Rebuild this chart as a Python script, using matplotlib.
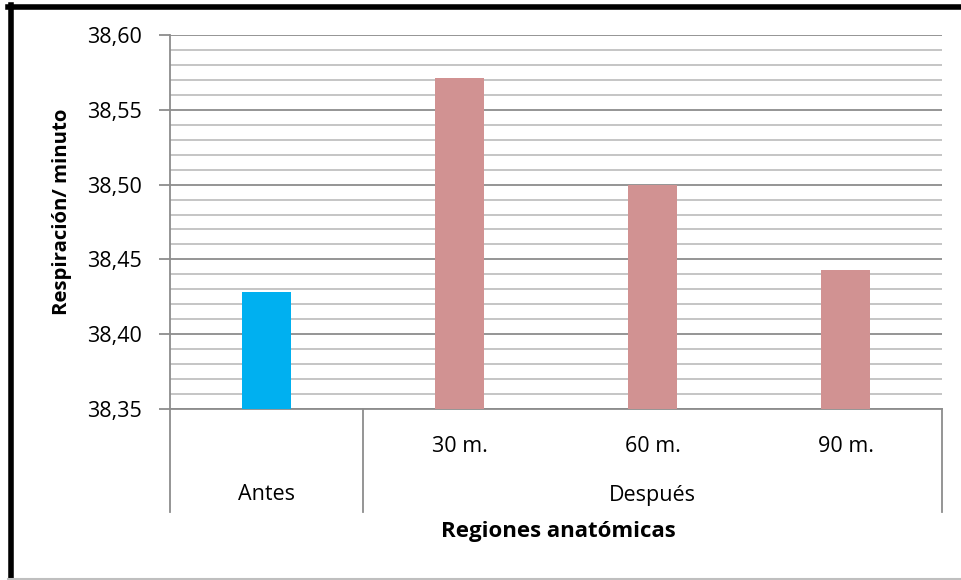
import matplotlib
matplotlib.use("Agg")
import matplotlib.pyplot as plt
from matplotlib.lines import Line2D
from matplotlib.ticker import MultipleLocator, FuncFormatter

plt.rcParams['font.family'] = ['Open Sans', 'DejaVu Sans']

# Datos: respiración por minuto antes y después
grupos = ['Antes', 'Después']
etiquetas = ['', '30 m.', '60 m.', '90 m.']
grupo_de_barra = [0, 1, 1, 1]
valores = [38.428, 38.571, 38.500, 38.443]
colores_grupo = ['#00B0F0', '#D19292']

W, H = 961, 580
fig = plt.figure(figsize=(W / 100, H / 100), dpi=100)

def fx(x):
    return x / W

def fy(y):
    return 1 - y / H

ax = fig.add_axes([fx(170), fy(409), fx(942) - fx(170), fy(35) - fy(409)])

x = list(range(len(valores)))
cols = [colores_grupo[g] for g in grupo_de_barra]
ax.bar(x, [v - 38.35 for v in valores], bottom=38.35, width=0.25,
       color=cols, zorder=3)

ax.set_xlim(-0.5, len(valores) - 0.5)
ax.set_ylim(38.35, 38.60)
ax.yaxis.set_major_locator(MultipleLocator(0.05))
ax.yaxis.set_minor_locator(MultipleLocator(0.01))
ax.yaxis.set_major_formatter(FuncFormatter(lambda v, p: f"{v:.2f}".replace('.', ',')))
ax.grid(which='major', axis='y', color='#8c8c8c', linewidth=1.3, zorder=0)
ax.grid(which='minor', axis='y', color='#c0c0c0', linewidth=1.3, zorder=0)
ax.tick_params(axis='y', which='major', length=8, width=1.3, color='#8c8c8c',
               labelsize=15.5, pad=12)
ax.tick_params(axis='y', which='minor', length=0)
ax.set_xticks([])

for s in ['top', 'right']:
    ax.spines[s].set_visible(False)
ax.spines['left'].set_visible(False)
ax.spines['bottom'].set_color('#8c8c8c')
ax.spines['bottom'].set_linewidth(1.3)

# Eje de categorías con dos niveles
limites = [-0.5, 0.5, len(valores) - 0.5]
prof = (409 - 512) / 374
for i, b in enumerate(limites):
    y0 = 1.0 if i == 0 else 0.0
    ax.add_line(Line2D([b, b], [prof, y0], transform=ax.get_xaxis_transform(),
                       color='#8c8c8c', linewidth=1.3, clip_on=False, zorder=4))

for xi, lab in zip(x, etiquetas):
    if lab:
        ax.text(xi, (409 - 447) / 374, lab, transform=ax.get_xaxis_transform(),
                ha='center', va='center', fontsize=15.5)

for g, nombre in enumerate(grupos):
    miembros = [xi for xi, gg in zip(x, grupo_de_barra) if gg == g]
    centro = (min(miembros) + max(miembros)) / 2
    ax.text(centro, (409 - 495) / 374, nombre, transform=ax.get_xaxis_transform(),
            ha='center', va='center', fontsize=15.5)

fig.text(fx(558), fy(532), 'Regiones anatómicas', ha='center', va='center',
         fontsize=16, fontweight='bold')
fig.text(fx(62), fy(212), 'Respiración/ minuto', ha='center', va='center',
         rotation=90, fontsize=14.7, fontweight='bold')

# Marco
fig.add_artist(Line2D([fx(10.5), fx(10.5)], [fy(5), fy(580)], color='black',
                      linewidth=4, transform=fig.transFigure))
fig.add_artist(Line2D([fx(8), fx(961)], [fy(7), fy(7)], color='black',
                      linewidth=4, transform=fig.transFigure))
fig.add_artist(Line2D([fx(8), fx(961)], [fy(579), fy(579)], color='#bfbfbf',
                      linewidth=1.5, transform=fig.transFigure))

fig.savefig('out.png', dpi=100)
